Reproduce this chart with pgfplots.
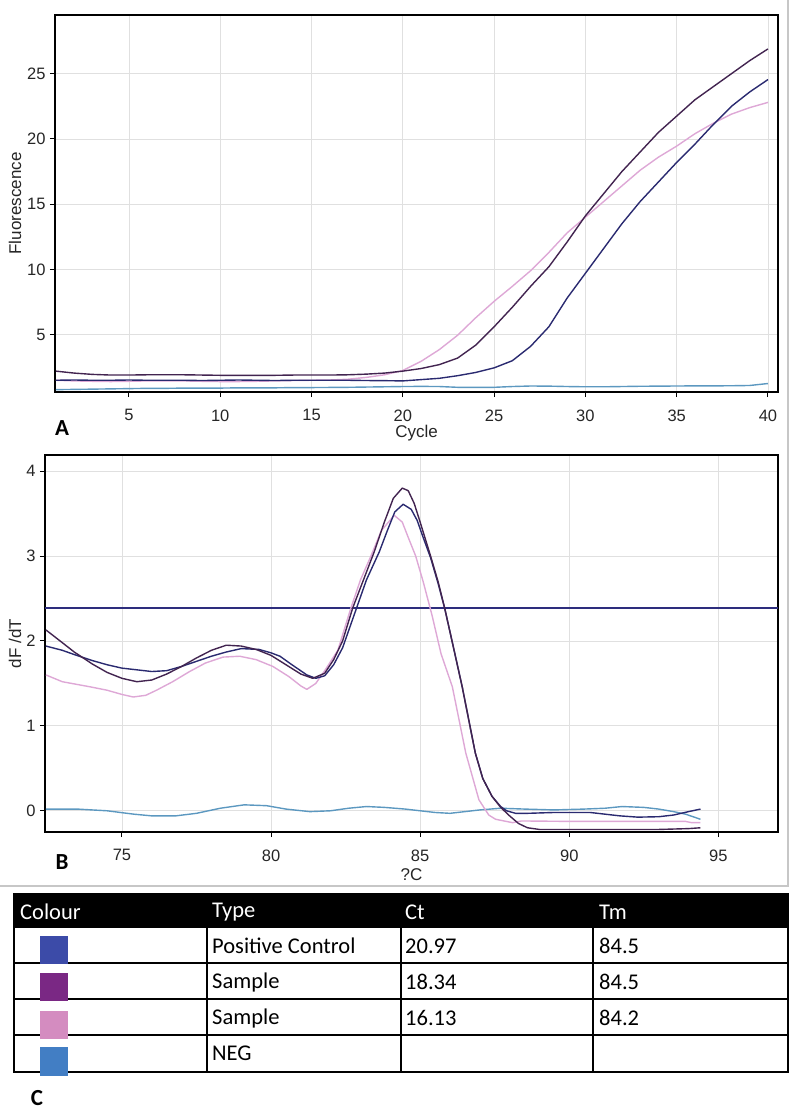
\documentclass[border=0pt]{standalone}
\usepackage{fontspec}
\setmainfont{Liberation Sans}
\newfontfamily\tabfont{Carlito}
\usepackage{pgfplots}
\pgfplotsset{compat=1.18}
\definecolor{cDP}{RGB}{66,36,80}
\definecolor{cNV}{RGB}{42,42,112}
\definecolor{cPK}{RGB}{222,168,214}
\definecolor{cNG}{RGB}{92,152,192}
\definecolor{cTH}{RGB}{45,45,125}
\definecolor{sw1}{RGB}{60,75,168}
\definecolor{sw2}{RGB}{122,40,132}
\definecolor{sw3}{RGB}{212,140,192}
\definecolor{sw4}{RGB}{66,126,196}
\pgfplotsset{
  panel/.style={
    scale only axis, anchor=north west,
    grid=major, grid style={black!12, line width=0.8pt},
    axis line style={line width=2pt},
    tick style={black, line width=1pt},
    tick align=outside, major tick length=5pt, tick pos=left,
    tick label style={font=\fontsize{16.5}{18}\selectfont, text=black!85},
    xticklabel style={yshift=-9pt},
    yticklabel style={xshift=-1pt},
    label style={font=\fontsize{17}{19}\selectfont, text=black!85},
    /pgf/number format/assume math mode=true,
    clip=true,
  },
  curve/.style={line width=1.4pt, line join=round}
}
\pgfplotstableread{
c dp pk nv ng
1 2.20 1.50 1.50 0.78
2 2.05 1.45 1.52 0.80
3 1.95 1.42 1.50 0.82
4 1.90 1.40 1.50 0.84
5 1.90 1.42 1.52 0.86
6 1.92 1.45 1.50 0.88
7 1.92 1.45 1.50 0.88
8 1.92 1.45 1.50 0.90
9 1.90 1.42 1.48 0.90
10 1.88 1.40 1.50 0.90
11 1.88 1.40 1.52 0.92
12 1.87 1.42 1.50 0.92
13 1.88 1.45 1.48 0.92
14 1.90 1.48 1.50 0.94
15 1.90 1.50 1.50 0.94
16 1.90 1.52 1.50 0.95
17 1.92 1.58 1.50 0.96
18 1.97 1.72 1.48 0.98
19 2.05 1.92 1.47 1.00
20 2.20 2.25 1.45 1.02
21 2.40 2.95 1.55 1.03
22 2.70 3.85 1.65 1.02
23 3.20 4.95 1.85 0.96
24 4.20 6.30 2.10 0.95
25 5.60 7.55 2.45 0.96
26 7.10 8.70 3.00 1.02
27 8.70 9.90 4.10 1.06
28 10.20 11.30 5.60 1.05
29 12.10 12.80 7.80 1.02
30 14.10 14.00 9.70 1.00
31 15.80 15.20 11.60 1.00
32 17.50 16.40 13.50 1.02
33 19.00 17.60 15.20 1.04
34 20.50 18.60 16.70 1.05
35 21.75 19.45 18.20 1.06
36 23.00 20.40 19.60 1.07
37 24.00 21.20 21.10 1.07
38 25.00 21.90 22.50 1.08
39 26.00 22.40 23.60 1.10
40 26.90 22.80 24.55 1.25
}\ampdata
\pgfplotstableread{
t d
72.45 2.13
73.0 1.98
73.4 1.87
74.0 1.73
74.5 1.63
75.0 1.56
75.5 1.52
76.0 1.54
76.5 1.61
77.0 1.70
77.5 1.80
78.0 1.89
78.5 1.95
79.0 1.94
79.5 1.90
80.0 1.83
80.5 1.72
81.0 1.61
81.4 1.56
81.8 1.62
82.1 1.78
82.4 2.00
82.74 2.39
83.1 2.72
83.46 3.05
83.8 3.40
84.1 3.68
84.4 3.80
84.6 3.77
84.8 3.62
85.0 3.40
85.35 3.00
85.6 2.70
85.82 2.39
86.1 1.95
86.41 1.46
86.85 0.68
87.1 0.38
87.41 0.17
87.7 0.04
88.0 -0.06
88.3 -0.15
88.6 -0.20
89.0 -0.22
90.0 -0.22
91.0 -0.22
92.0 -0.22
93.0 -0.22
94.0 -0.21
94.4 -0.20
}\meltdp
\pgfplotstableread{
t d
72.45 1.94
73.0 1.89
73.4 1.84
74.0 1.77
74.5 1.72
75.0 1.68
75.5 1.66
76.0 1.64
76.5 1.65
77.0 1.70
77.5 1.76
78.0 1.82
78.5 1.87
79.0 1.91
79.6 1.90
80.0 1.86
80.3 1.82
80.7 1.72
81.2 1.60
81.5 1.56
81.8 1.59
82.1 1.72
82.4 1.92
82.87 2.39
83.2 2.72
83.63 3.05
83.9 3.30
84.15 3.52
84.43 3.61
84.7 3.55
84.9 3.42
85.1 3.22
85.35 2.98
85.6 2.68
85.82 2.39
86.1 1.95
86.41 1.46
86.85 0.68
87.1 0.38
87.41 0.17
87.7 0.05
87.9 0.00
88.2 -0.03
88.6 -0.03
89.5 -0.02
90.7 -0.02
91.2 -0.04
91.7 -0.06
92.3 -0.075
93.0 -0.07
93.5 -0.05
94.0 -0.01
94.4 0.02
}\meltnv
\pgfplotstableread{
t d
72.45 1.60
73.0 1.52
73.93 1.46
74.5 1.42
75.0 1.37
75.38 1.34
75.8 1.36
76.16 1.42
76.7 1.52
77.27 1.64
77.8 1.74
78.39 1.81
78.95 1.82
79.5 1.78
80.06 1.70
80.6 1.58
81.0 1.47
81.2 1.43
81.5 1.50
81.8 1.65
82.24 1.89
82.68 2.39
83.0 2.72
83.35 3.00
83.7 3.30
84.13 3.48
84.4 3.40
84.6 3.22
84.85 3.00
85.1 2.70
85.4 2.30
85.7 1.85
86.08 1.46
86.53 0.68
86.97 0.13
87.3 -0.05
87.53 -0.10
88.1 -0.14
88.4 -0.12
90.0 -0.125
92.0 -0.125
93.9 -0.125
94.1 -0.14
94.4 -0.14
}\meltpk
\pgfplotstableread{
t d
72.45 0.02
73.5 0.02
74.5 0.00
75.4 -0.04
76.0 -0.06
76.8 -0.06
77.5 -0.03
78.3 0.03
79.1 0.07
79.85 0.06
80.5 0.02
81.3 -0.01
82.0 0.00
82.6 0.03
83.2 0.05
83.8 0.04
84.5 0.02
85.0 0.00
85.5 -0.02
86.0 -0.03
86.5 -0.01
87.0 0.01
87.7 0.03
88.5 0.02
89.5 0.01
90.5 0.02
91.2 0.03
91.77 0.05
92.5 0.04
93.0 0.02
93.5 -0.01
93.9 -0.04
94.4 -0.10
}\meltng
\begin{document}
\begin{tikzpicture}
\path[use as bounding box] (0pt,0pt) rectangle (800pt,-1110pt);
\draw[black!22, line width=2pt] (788pt,0pt) -- (788pt,-886pt) -- (0pt,-886pt);
% Panel A
\begin{axis}[panel, at={(55pt,-15pt)}, width=723pt, height=377pt,
  xmin=0.95, xmax=40.55, ymin=0.6, ymax=29.5,
  xtick={5,10,...,40}, ytick={5,10,...,25},
  xlabel={Cycle}, ylabel={Fluorescence},
  xlabel style={at={(axis description cs:0.5,-0.1088)}, anchor=center},
  ylabel style={at={(axis description cs:-0.0553,0.5)}, anchor=center},
]
\addplot[curve, cNG] table[x=c, y=ng] {\ampdata};
\addplot[curve, cPK] table[x=c, y=pk] {\ampdata};
\addplot[curve, cNV] table[x=c, y=nv] {\ampdata};
\addplot[curve, cDP] table[x=c, y=dp] {\ampdata};
\end{axis}
% Panel B
\begin{axis}[panel, at={(45pt,-455pt)}, width=733pt, height=377pt,
  xmin=72.42, xmax=97.0, ymin=-0.25, ymax=4.19,
  xtick={75,80,...,95}, ytick={0,1,2,3,4},
  xlabel={?C}, ylabel={dF /dT},
  xlabel style={at={(axis description cs:0.5,-0.114)}, anchor=center},
  ylabel style={at={(axis description cs:-0.0409,0.5)}, anchor=center},
]
\addplot[line width=1.4pt, cTH] coordinates {(72.42,2.39) (97.0,2.39)};
\addplot[curve, cNG] table[x=t, y=d] {\meltng};
\addplot[curve, cPK] table[x=t, y=d] {\meltpk};
\addplot[curve, cNV] table[x=t, y=d] {\meltnv};
\addplot[curve, cDP] table[x=t, y=d] {\meltdp};
\end{axis}
\begin{scope}[x=1pt,y=1pt]
% panel letters
\node[font=\tabfont\bfseries\fontsize{23}{24}\selectfont] at (62,-428) {A};
\node[font=\tabfont\bfseries\fontsize{23}{24}\selectfont] at (62,-862) {B};
\node[font=\tabfont\bfseries\fontsize{23}{24}\selectfont] at (37,-1098) {C};
% table
\fill[black] (14,-894) rectangle (788,-928);
\draw[black, line width=2pt] (14,-894) rectangle (788,-1072);
\foreach \yy in {-963,-999,-1035} \draw[black, line width=1.8pt] (14,\yy) -- (788,\yy);
\foreach \xx in {207,401,593} \draw[black, line width=1.8pt] (\xx,-928) -- (\xx,-1072);
\begin{scope}[every node/.style={anchor=west, inner sep=0pt, font=\tabfont\fontsize{22.5}{24}\selectfont}]
\node[text=white] at (20,-912) {Colour};
\node[text=white] at (212,-912) {Type};
\node[text=white] at (405,-912) {Ct};
\node[text=white] at (599,-912) {Tm};
\node at (212,-946) {Positive Control};
\node at (212,-982) {Sample};
\node at (212,-1018) {Sample};
\node at (212,-1053) {NEG};
\node at (405,-946) {20.97};
\node at (405,-982) {18.34};
\node at (405,-1018) {16.13};
\node at (599,-946) {84.5};
\node at (599,-982) {84.5};
\node at (599,-1018) {84.2};
\end{scope}
\fill[sw1] (40,-936) rectangle (68,-964);
\fill[sw2] (40,-973) rectangle (68,-1001);
\fill[sw3] (40,-1011) rectangle (68,-1039);
\fill[sw4] (40,-1047) rectangle (68,-1076);
\end{scope}
\end{tikzpicture}
\end{document}
